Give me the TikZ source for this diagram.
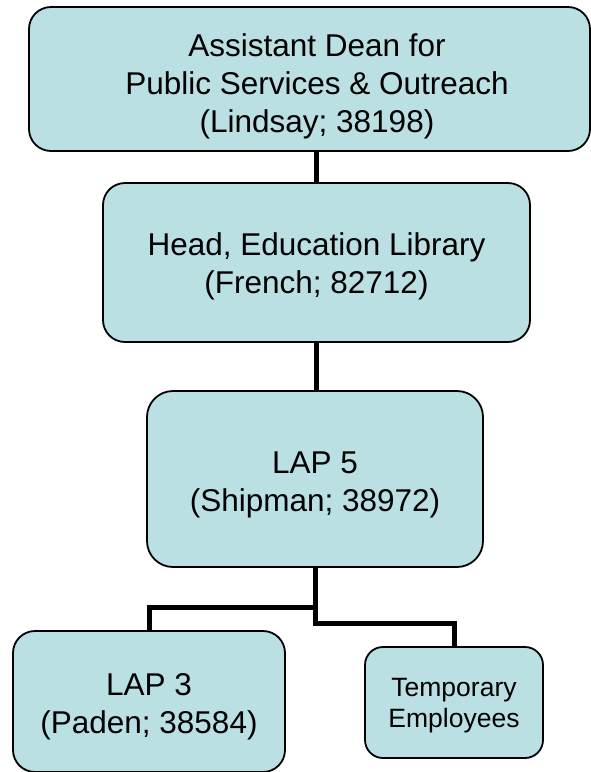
\documentclass[tikz,border=0pt]{standalone}
\usepackage{fontspec}
\setmainfont{Liberation Sans}
\usepackage{tikz}

\definecolor{boxfill}{RGB}{187,224,227}
\newcommand{\lift}[1]{\rule{0pt}{#1}}

\tikzset{
  orgbox/.style={draw,line width=1.8pt,fill=boxfill,rounded corners=22pt,
    align=center,inner sep=0pt,font=\fontsize{31.5}{38}\selectfont},
  smallbox/.style={orgbox,rounded corners=18pt,font=\fontsize{26.5}{31}\selectfont},
  link/.style={line width=5pt}
}

\begin{document}
\begin{tikzpicture}[x=1pt,y=-1pt]
  \useasboundingbox (0,0) rectangle (590,772);
  \node[orgbox,minimum width=561pt,minimum height=144pt] (dean) at (309.5,79)
    {\hspace*{15pt}\lift{37pt}Assistant Dean for\\\hspace*{15pt}Public Services \& Outreach\\\hspace*{15pt}(Lindsay; 38198)};
  \node[orgbox,minimum width=427pt,minimum height=159pt] (head) at (316.5,262.5)
    {\lift{31pt}Head, Education Library\\(French; 82712)};
  \node[orgbox,minimum width=336pt,minimum height=176pt,rounded corners=26pt] (lap5) at (315,479)
    {\lift{33pt}LAP 5\\(Shipman; 38972)};
  \node[orgbox,minimum width=272pt,minimum height=141pt] (lap3) at (149,701.5)
    {\lift{33pt}LAP 3\\(Paden; 38584)};
  \node[smallbox,minimum width=178pt,minimum height=111pt] (temp) at (454,702.5)
    {\lift{25pt}Temporary\\Employees};
  \draw[link] (head.north) -- (head.north |- dean.south);
  \draw[link] (head.south) -- (head.south |- lap5.north);
  \draw[link] (lap5.south) -- ++(0,40) -| (lap3.north);
  \draw[link] (lap5.south) -- ++(0,56) -| (temp.north);
\end{tikzpicture}
\end{document}
